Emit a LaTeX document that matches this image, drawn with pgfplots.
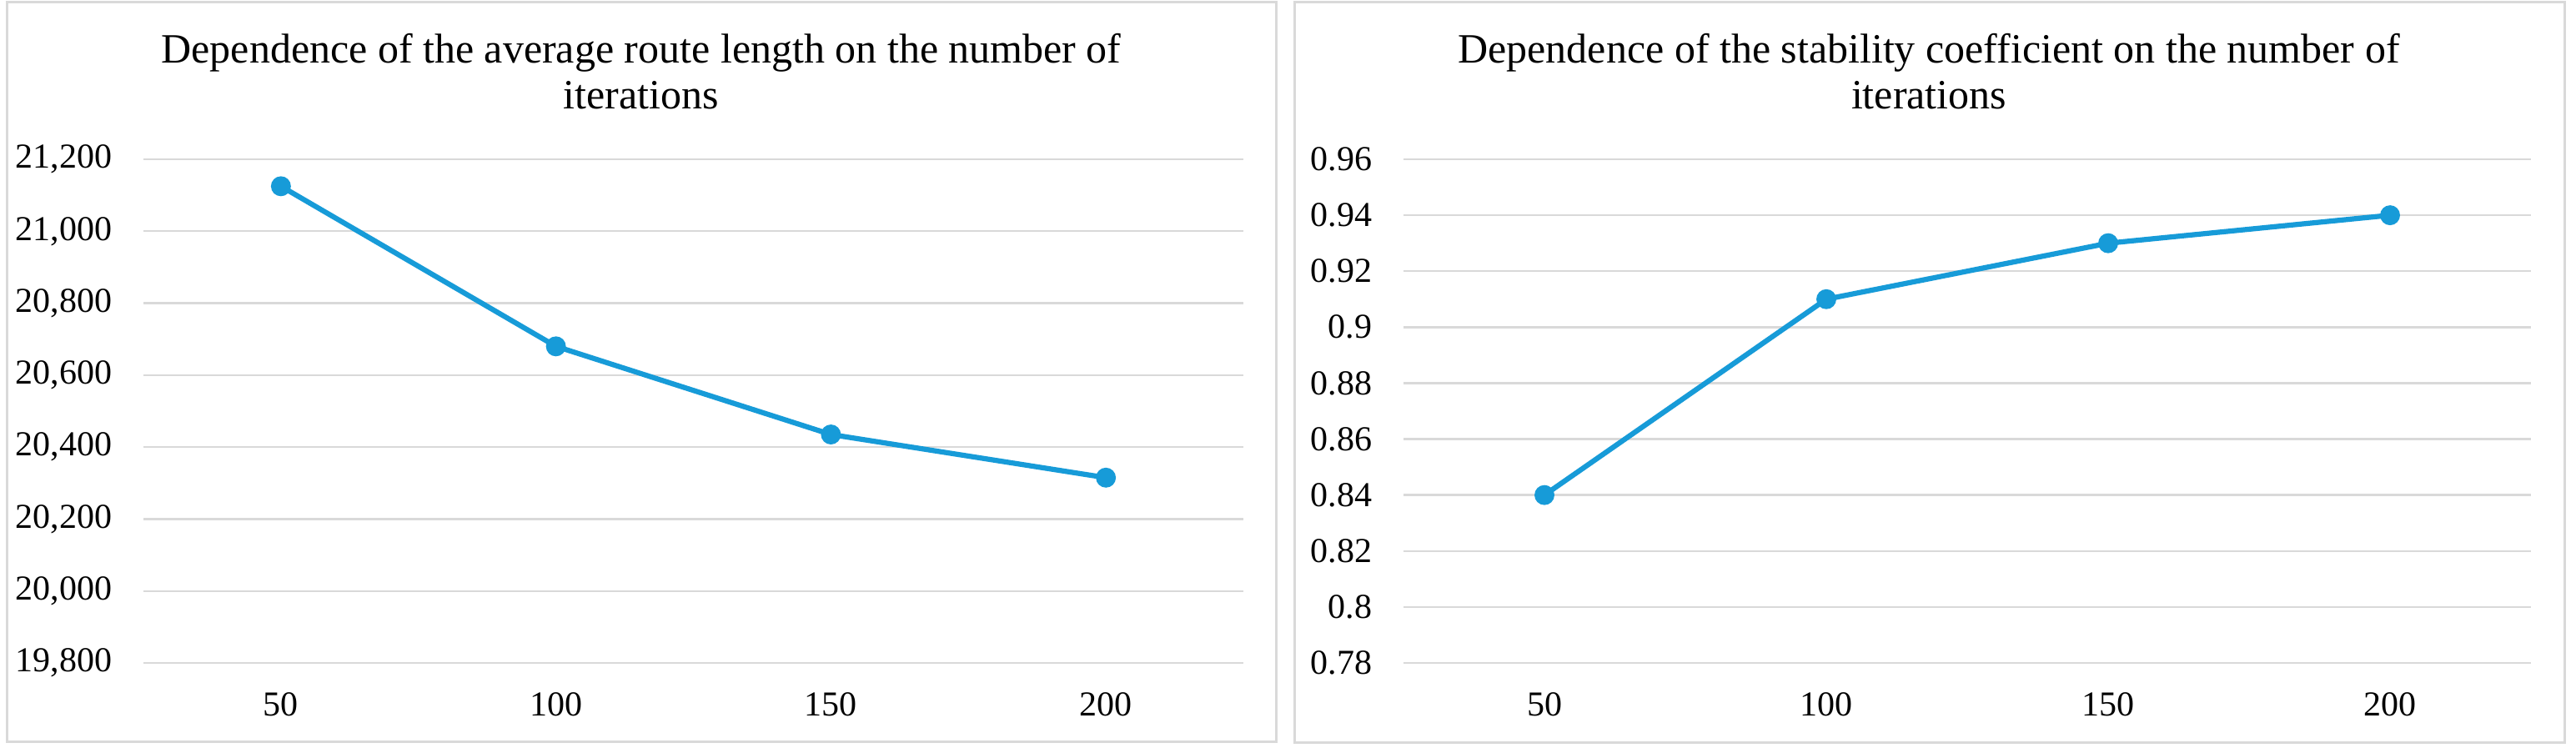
\documentclass[border=0pt]{standalone}
\usepackage{fontspec}
\setmainfont{Liberation Serif}
\usepackage{pgfplots}
\pgfplotsset{compat=1.18}
\definecolor{lineblue}{RGB}{23,155,216}
\definecolor{gridgray}{RGB}{217,217,217}
\definecolor{framegray}{RGB}{217,217,217}

\begin{document}
\begin{tikzpicture}
\useasboundingbox[fill=white] (0,0) rectangle (772.25pt,224.25pt);
\draw[framegray, line width=0.75pt] (2pt,1.75pt) rectangle (382.5pt,223.5pt);
\draw[framegray, line width=0.75pt] (388pt,1.5pt) rectangle (768.75pt,223.5pt);
\pgfplotsset{
  panel/.style={
    scale only axis, anchor=south west, height=151pt,
    xmin=25, xmax=225, xtick={50,100,150,200},
    axis line style={draw=none}, major tick length=0pt,
    ymajorgrids, grid style={gridgray, line width=0.6pt},
    tick label style={font=\fontsize{10.5}{12}\selectfont, text=black},
    /pgf/number format/assume math mode=true,
    yticklabel style={anchor=east, inner sep=0pt, xshift=-9.25pt},
    xticklabel style={anchor=north, inner sep=0pt, yshift=-8.75pt},
    scaled y ticks=false,
    clip=false,
  },
  series/.style={color=lineblue, line width=1.55pt, mark=*, mark size=2.2pt,
    mark options={solid, fill=lineblue, draw=lineblue}},
}
\begin{axis}[panel, at={(43pt,25.5pt)}, width=329.75pt,
  ymin=19800, ymax=21200,
  ytick={19800,20000,20200,20400,20600,20800,21000,21200},
  /pgf/number format/fixed, /pgf/number format/precision=0,
  /pgf/number format/1000 sep={,}]
\addplot[series] coordinates {(50,21125) (100,20680) (150,20435) (200,20315)};
\end{axis}
\begin{axis}[panel, at={(420.75pt,25.5pt)}, width=338pt,
  ymin=0.78, ymax=0.96,
  ytick={0.78,0.80,0.82,0.84,0.86,0.88,0.90,0.92,0.94,0.96},
  /pgf/number format/fixed, /pgf/number format/precision=2]
\addplot[series] coordinates {(50,0.84) (100,0.91) (150,0.93) (200,0.94)};
\end{axis}
\node[anchor=base, font=\fontsize{12.5}{14}\selectfont] at (192.25pt,205.25pt) {Dependence of the average route length on the number of};
\node[anchor=base, font=\fontsize{12.5}{14}\selectfont] at (192.25pt,191.5pt) {iterations};
\node[anchor=base, font=\fontsize{12.5}{14}\selectfont] at (578.25pt,205.25pt) {Dependence of the stability coefficient on the number of};
\node[anchor=base, font=\fontsize{12.5}{14}\selectfont] at (578.25pt,191.5pt) {iterations};
\end{tikzpicture}
\end{document}
